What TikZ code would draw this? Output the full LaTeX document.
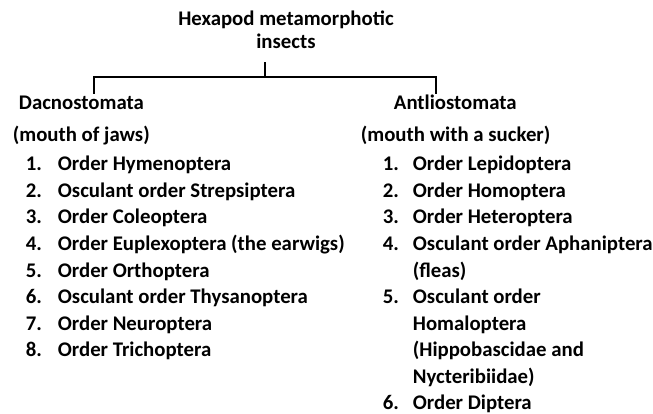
\documentclass[tikz,border=0pt]{standalone}
\usepackage{fontspec}
\setmainfont{Carlito}
\begin{document}
\begin{tikzpicture}[x=1pt,y=-1pt,line width=1.8pt,line cap=rect,
 font=\bfseries\fontsize{20.8}{26.5}\selectfont]
\tikzset{
  txt/.style={inner sep=0pt,anchor=base west,align=left},
  num/.style={inner sep=0pt,anchor=base west}
}
\useasboundingbox (0,0) rectangle (653,414);
% root (base = last line)
\node[inner sep=0pt,anchor=base,align=center,
  font=\bfseries\fontsize{20.8}{23}\selectfont] (root) at (286,49)
  {Hexapod metamorphotic\\insects};
% the two groups
\node[txt] (dac) at (18,110) {Dacnostomata};
\node[txt] (dacmouth) at (12,142) {(mouth of jaws)};
\node[txt] (ant) at (393,110) {Antliostomata};
\node[txt] (antmouth) at (360,142) {(mouth with a sucker)};
% bracket
\coordinate (split) at (265,77);
\coordinate (dacend) at (94,93);
\coordinate (antend) at (436,93);
\draw (split|-root.south) ++(0,13) -- (split);
\draw (dacend) -- (dacend|-split) -- (antend|-split) -- (antend);
% left list
\foreach \n/\t in {1/Order Hymenoptera,2/Osculant order Strepsiptera,
  3/Order Coleoptera,4/Order Euplexoptera (the earwigs),5/Order Orthoptera,
  6/Osculant order Thysanoptera,7/Order Neuroptera,8/Order Trichoptera}{
  \node[num] (dn\n) at (25,{171+26.5*(\n-1)}) {\n.};
  \node[txt] (dt\n) at (57,{171+26.5*(\n-1)}) {\t};
}
% right list (\r = first row, \l = last row)
\foreach \n/\r/\l/\t in {1/0/0/Order Lepidoptera,2/1/1/Order Homoptera,
  3/2/2/Order Heteroptera,4/3/4/{Osculant order Aphaniptera\\(fleas)},
  5/5/8/{Osculant order\\Homaloptera\\(Hippobascidae and\\Nycteribiidae)},
  6/9/9/Order Diptera}{
  \node[num] (an\n) at (382,{171+26.5*\r}) {\n.};
  \node[txt] (at\n) at (412,{171+26.5*\l}) {\t};
}
\end{tikzpicture}
\end{document}
